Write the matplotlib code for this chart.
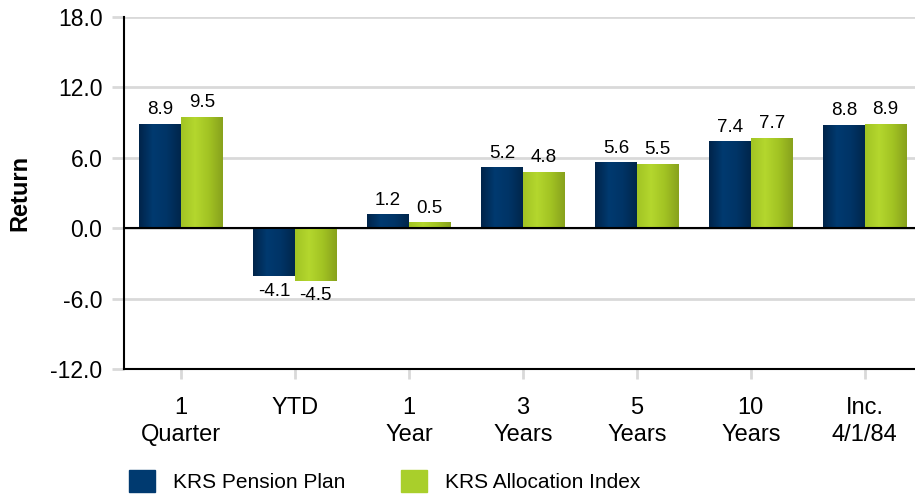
import numpy as np
import matplotlib
matplotlib.use("Agg")
import matplotlib.pyplot as plt
from matplotlib.colors import LinearSegmentedColormap
from matplotlib.patches import Patch

plt.rcParams['font.family'] = ['Liberation Sans', 'DejaVu Sans']

categories = ['1\nQuarter', 'YTD', '1\nYear', '3\nYears', '5\nYears', '10\nYears', 'Inc.\n4/1/84']
pension = [8.9, -4.1, 1.2, 5.2, 5.6, 7.4, 8.8]
index = [9.5, -4.5, 0.5, 4.8, 5.5, 7.7, 8.9]
series_names = ['KRS Pension Plan', 'KRS Allocation Index']

blue_cmap = LinearSegmentedColormap.from_list('b', ['#00244a', '#003a70', '#003466', '#00264c'])
green_cmap = LinearSegmentedColormap.from_list('g', ['#a2c424', '#b4d72e', '#a2c323', '#88a21d'])

fig = plt.figure(figsize=(9.15, 4.94), dpi=100)
ax = fig.add_axes([124/915, 125/494, 1 - 124/915, 352/494])

x = np.arange(len(categories))
w = 0.365
grad = np.linspace(0, 1, 64).reshape(1, -1)


def draw(offset, vals, cmap, solid):
    bars = ax.bar(x + offset, vals, w, color=solid, zorder=3)
    for b in bars:
        x0, y0 = b.get_x(), b.get_y()
        im = ax.imshow(grad, cmap=cmap, aspect='auto', zorder=3.5,
                       extent=[x0, x0 + b.get_width(), y0, y0 + b.get_height()])
        im.set_clip_path(b)
    for xi, v in zip(x + offset, vals):
        if v >= 0:
            ax.annotate(f'{v:.1f}', (xi, v), xytext=(0, 4), textcoords='offset points',
                        ha='center', va='bottom', fontsize=13.5, zorder=5)
        else:
            ax.annotate(f'{v:.1f}', (xi, v), xytext=(0, -4.5), textcoords='offset points',
                        ha='center', va='top', fontsize=13.5, zorder=5)


draw(-w / 2, pension, blue_cmap, '#003366')
draw(w / 2, index, green_cmap, '#a9cf2b')

ax.set_xlim(-0.5, 6.44)
ax.set_ylim(-12, 18)
ticks = np.arange(-12, 18.1, 6)
ax.set_yticks(ticks)
ax.set_yticklabels([f'{t:.1f}' for t in ticks])
ax.yaxis.grid(True, color='#d9d9d9', linewidth=2, zorder=0)
ax.set_axisbelow(True)
ax.axhline(0, color='black', linewidth=1.5, zorder=4)
ax.tick_params(axis='y', length=8.5, width=2, color='#d9d9d9', labelsize=16.5, pad=7)
ax.set_xticks(x)
ax.set_xticklabels(categories, fontsize=17, linespacing=1.3)
ax.tick_params(axis='x', length=7, width=2, color='#d9d9d9', pad=13)
for s in ['top', 'right']:
    ax.spines[s].set_visible(False)
ax.spines['left'].set_linewidth(1.5)
ax.spines['bottom'].set_linewidth(1.5)
ax.set_ylabel('Return', fontsize=17, fontweight='bold', labelpad=14)

handles = [Patch(color='#003a70'), Patch(color='#a9cf2b')]
fig.legend(handles, series_names, loc='lower left', bbox_to_anchor=(129/915, 2/494), ncol=2,
           frameon=False, fontsize=15, handlelength=1.25, handleheight=1.25,
           handletextpad=0.87, columnspacing=2.65, borderpad=0, borderaxespad=0)

fig.savefig('out.png', dpi=100)
